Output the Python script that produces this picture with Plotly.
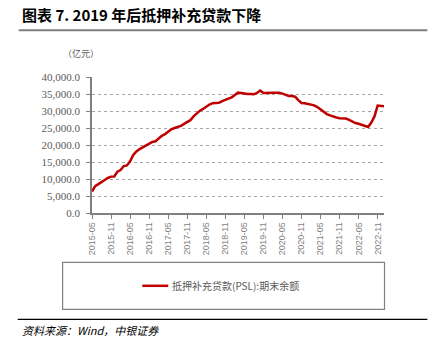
import plotly.graph_objects as go

# ---- data ----
months = []
y0, m0 = 2015, 5
for i in range(93):
    yy = y0 + (m0 - 1 + i) // 12
    mm = (m0 - 1 + i) % 12 + 1
    months.append(f"{yy}-{mm:02d}")

psl = [6300, 7900, 8500, 9000, 9700, 10300, 10700, 10750, 12150, 12650,
       13800, 14000, 15200, 17050, 18100, 18800, 19300, 19800, 20300, 20900,
       21100, 22000, 22700, 23200, 24000, 24600, 25000, 25200, 25600, 26200,
       26650, 27300, 28400, 29400, 30100, 30600, 31300, 31900, 32300, 32300,
       32400, 32900, 33200, 33500, 34000, 34700, 35400, 35300, 35100, 35000,
       35000, 34900, 35300, 36000, 35300, 35400, 35400, 35400, 35400, 35400,
       35100, 34700, 34400, 34400, 34200, 33200, 32350, 32250, 32050, 31750,
       31650, 31150, 30500, 29600, 29100, 28700, 28300, 28100, 27900, 27800,
       27800, 27400, 26950, 26450, 26250, 25900, 25600, 25300, 26600, 28400,
       31600, 31500, 31400]

tick_labels = months[::6]
y_ticks = [0, 5000, 10000, 15000, 20000, 25000, 30000, 35000, 40000]

series_name = "抵押补充贷款(PSL):期末余额"
title_text = "图表 7. 2019 年后抵押补充贷款下降"
unit_text = "（亿元）"
source_text = "资料来源：Wind，中银证券"

# ---- layout geometry ----
W, H = 428, 352
L, R, T, B = 91.5, 43.5, 76.7, 139.3
pw, ph = W - L - R, H - T - B

def px(x):
    return (x - L) / pw

def py(y):
    return (H - B - y) / ph

RED = "#C00000"
GRAY = "#595959"
CJK = "Noto Sans CJK SC"
SERIF = "Liberation Serif"

fig = go.Figure()
fig.add_trace(go.Scatter(x=months, y=psl, mode="lines",
                         line=dict(color=RED, width=2.5), name=series_name,
                         showlegend=False, hoverinfo="skip"))

fig.update_layout(
    width=W, height=H,
    margin=dict(l=L, r=R, t=T, b=B, pad=0),
    paper_bgcolor="white", plot_bgcolor="white",
    xaxis=dict(type="category", range=[0, 92], tickmode="array",
               tickvals=tick_labels, ticktext=tick_labels, tickangle=-90,
               ticks="outside", ticklen=4, tickcolor="#808080",
               showline=True, linecolor="#808080", linewidth=1.5,
               showgrid=False, zeroline=False,
               tickfont=dict(family="Liberation Sans", size=9, color="#7f7f7f")),
    yaxis=dict(range=[0, 40000], tickvals=y_ticks, tickformat=",.1f",
               ticks="outside", ticklen=4, tickcolor="#808080",
               showline=True, linecolor="#808080", linewidth=1.5,
               showgrid=True, gridcolor="#a6a6a6", griddash="dot", gridwidth=1,
               zeroline=False, ticklabelstandoff=4,
               tickfont=dict(family=SERIF, size=11, color=GRAY)),
    font=dict(family=CJK),
)

shapes = [
    # title underline
    dict(type="line", xref="paper", yref="paper", x0=px(18), x1=px(428),
         y0=py(30), y1=py(30), line=dict(color="#7f7f7f", width=2)),
    # legend box
    dict(type="rect", xref="paper", yref="paper", x0=px(62), x1=px(385),
         y0=py(262), y1=py(309), line=dict(color="#808080", width=1.2)),
    # legend sample
    dict(type="line", xref="paper", yref="paper", x0=px(142), x1=px(168),
         y0=py(285.5), y1=py(285.5), line=dict(color=RED, width=2.5)),
    # source line
    dict(type="line", xref="paper", yref="paper", x0=px(17), x1=px(428),
         y0=py(319), y1=py(319), line=dict(color="#000000", width=1.2)),
]
fig.update_layout(shapes=shapes)

ann = [
    dict(text=f"<b>{title_text}</b>", x=px(19), y=py(14), xanchor="left",
         yanchor="middle", font=dict(family=CJK, size=15, color="#000000")),
    dict(text=unit_text, x=px(60), y=py(53), xanchor="left", yanchor="middle",
         font=dict(family=CJK, size=9, color=GRAY)),
    dict(text=series_name, x=px(170), y=py(285.5), xanchor="left",
         yanchor="middle", font=dict(family=CJK, size=10, color=GRAY)),
    dict(text=f"<i>{source_text}</i>", x=px(19), y=py(330), xanchor="left",
         yanchor="middle", font=dict(family=CJK, size=11, color="#000000")),
]
for a in ann:
    a.update(xref="paper", yref="paper", showarrow=False)
fig.update_layout(annotations=ann)

fig.write_html("out.html")
